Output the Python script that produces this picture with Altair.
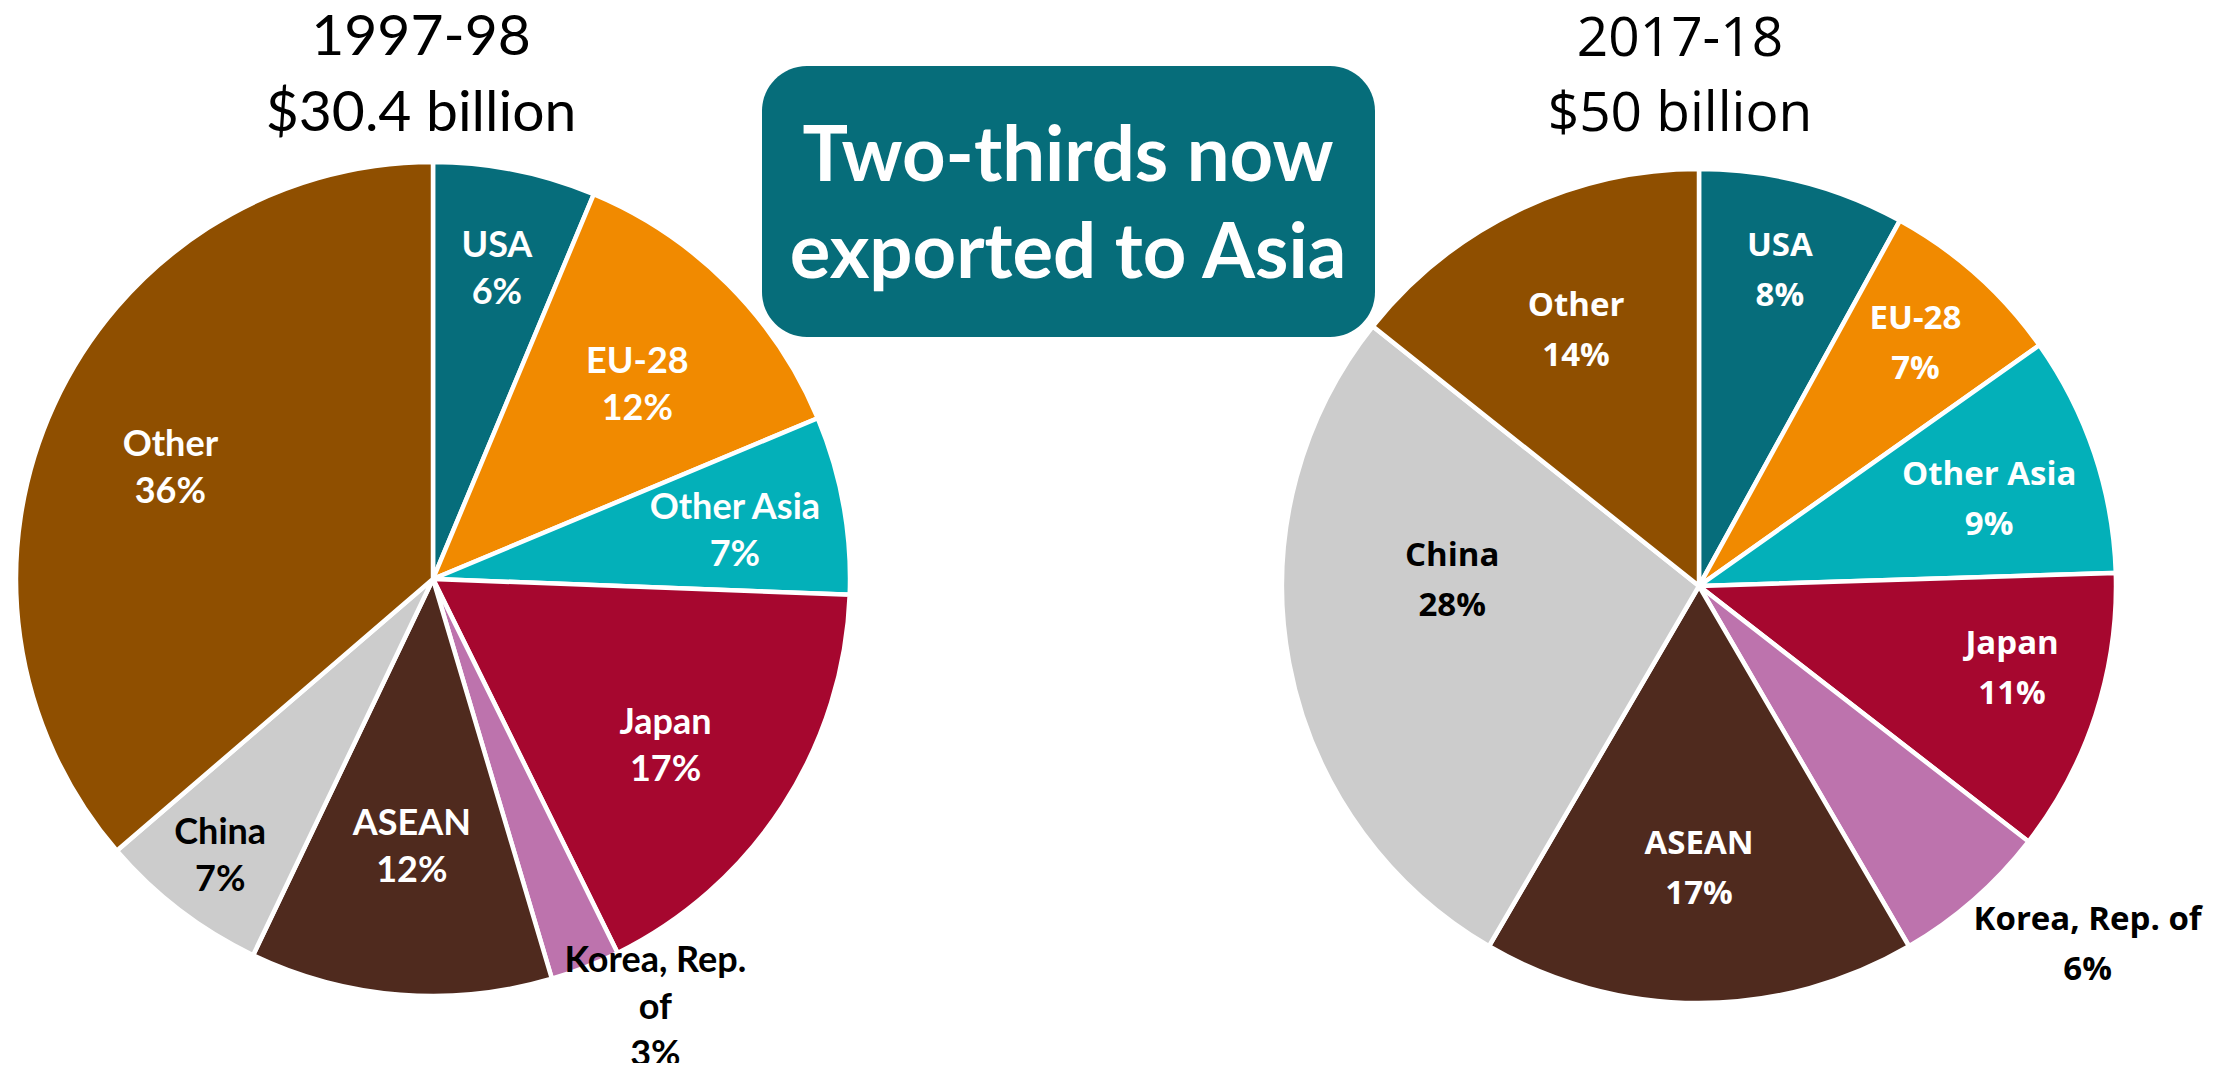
import altair as alt
import pandas as pd

categories = ["USA", "EU-28", "Other Asia", "Japan", "Korea, Rep. of", "ASEAN", "China", "Other"]
share_1997 = [6.3, 12.4, 6.9, 17.1, 2.7, 11.7, 6.6, 36.3]
share_2017 = [8.0, 7.2, 9.3, 11.0, 6.1, 16.8, 27.3, 14.3]
labels_1997 = ["USA\n6%", "EU-28\n12%", "Other Asia\n7%", "Japan\n17%",
               "Korea, Rep.\nof\n3%", "ASEAN\n12%", "China\n7%", "Other\n36%"]
labels_2017 = ["USA\n8%", "EU-28\n7%", "Other Asia\n9%", "Japan\n11%",
               "Korea, Rep. of\n6%", "ASEAN\n17%", "China\n28%", "Other\n14%"]
palette = ["#066d7b", "#f18a00", "#03b0b9", "#a6072f", "#bd73ad", "#4f2a1e", "#cccccc", "#8f4f00"]
titles = ["1997-98\n$30.4 billion", "2017-18\n$50 billion"]
callout = "Two-thirds now\nexported to Asia"

theta_scale = alt.Scale(domain=[0, 100])
color_scale = alt.Scale(domain=categories, range=palette)


def pie(shares, labels, cx, cy, R, font, fsize, lh, groups):
    df = pd.DataFrame({"idx": list(range(len(categories))), "category": categories,
                       "share": shares, "label": labels})
    arcs = alt.Chart(df).mark_arc(outerRadius=R, stroke="white", strokeWidth=4.5).encode(
        theta=alt.Theta("share:Q", stack=True, scale=theta_scale),
        order=alt.Order("idx:Q"),
        color=alt.Color("category:N", scale=color_scale, legend=None),
        x=alt.value(cx), y=alt.value(cy),
    )
    layers = [arcs]
    base = alt.Chart(df).transform_window(
        cum="sum(share)", sort=[alt.SortField("idx")], frame=[None, 0]
    ).transform_calculate(mid="datum.cum - datum.share / 2")
    for cats, rad, col, dx, dy in groups:
        layers.append(
            base.transform_filter(alt.FieldOneOfPredicate(field="category", oneOf=cats))
            .mark_text(radius=rad, dx=dx, dy=dy, font=font, fontSize=fsize, fontWeight="bold",
                       lineBreak="\n", lineHeight=lh, align="center", baseline="middle", color=col)
            .encode(theta=alt.Theta("mid:Q", scale=theta_scale), text="label:N",
                    x=alt.value(cx), y=alt.value(cy))
        )
    return layers


left = pie(share_1997, labels_1997, 425, 571, 417, "Lato", 36, 47, [
    (["USA"], 325, "white", 0, -14),
    (["Other Asia"], 319, "white", -12, -14),
    (["EU-28", "Other"], 289, "white", 0, -13),
    (["Japan"], 289, "white", -10, -13),
    (["ASEAN"], 270, "white", 0, -24),
    (["China"], 350, "black", 0, -24),
    (["Korea, Rep. of"], 483, "black", 46, -68),
])
right = pie(share_2017, labels_2017, 1691, 578, 417, "Open Sans", 33, 50, [
    (["USA", "EU-28"], 325, "white", 0, -25),
    (["Other Asia"], 325, "white", -18, -8),
    (["Japan"], 325, "white", 4, -42),
    (["ASEAN", "Other"], 283, "white", 0, -25),
    (["China"], 245, "black", -6, -75),
    (["Korea, Rep. of"], 529, "black", 40, -64),
])

tdf = pd.DataFrame({"t": titles})
title_left = alt.Chart(tdf.iloc[[0]]).mark_text(
    font="Lato", fontSize=57, lineBreak="\n", lineHeight=76, align="center",
    baseline="alphabetic", color="black"
).encode(text="t:N", x=alt.value(413), y=alt.value(47))
title_right = alt.Chart(tdf.iloc[[1]]).mark_text(
    font="Open Sans", fontSize=55, lineBreak="\n", lineHeight=75, align="center",
    baseline="alphabetic", color="black"
).encode(text="t:N", x=alt.value(1672), y=alt.value(48))

cdf = pd.DataFrame({"t": [callout]})
box = alt.Chart(cdf).mark_rect(color="#066d7a", cornerRadius=45).encode(
    x=alt.value(754), x2=alt.value(1367), y=alt.value(58), y2=alt.value(329)
)
box_text = alt.Chart(cdf).mark_text(
    font="Lato", fontSize=76, fontWeight="bold", lineBreak="\n", lineHeight=97,
    align="center", baseline="alphabetic", color="white"
).encode(text="t:N", x=alt.value(1060), y=alt.value(173))

chart = alt.layer(*left, *right, title_left, title_right, box, box_text).properties(
    width=2223, height=1055, autosize="none", padding=0
).configure_view(stroke=None)

chart.save("out.html", embed_options={"renderer": "svg", "actions": False})
